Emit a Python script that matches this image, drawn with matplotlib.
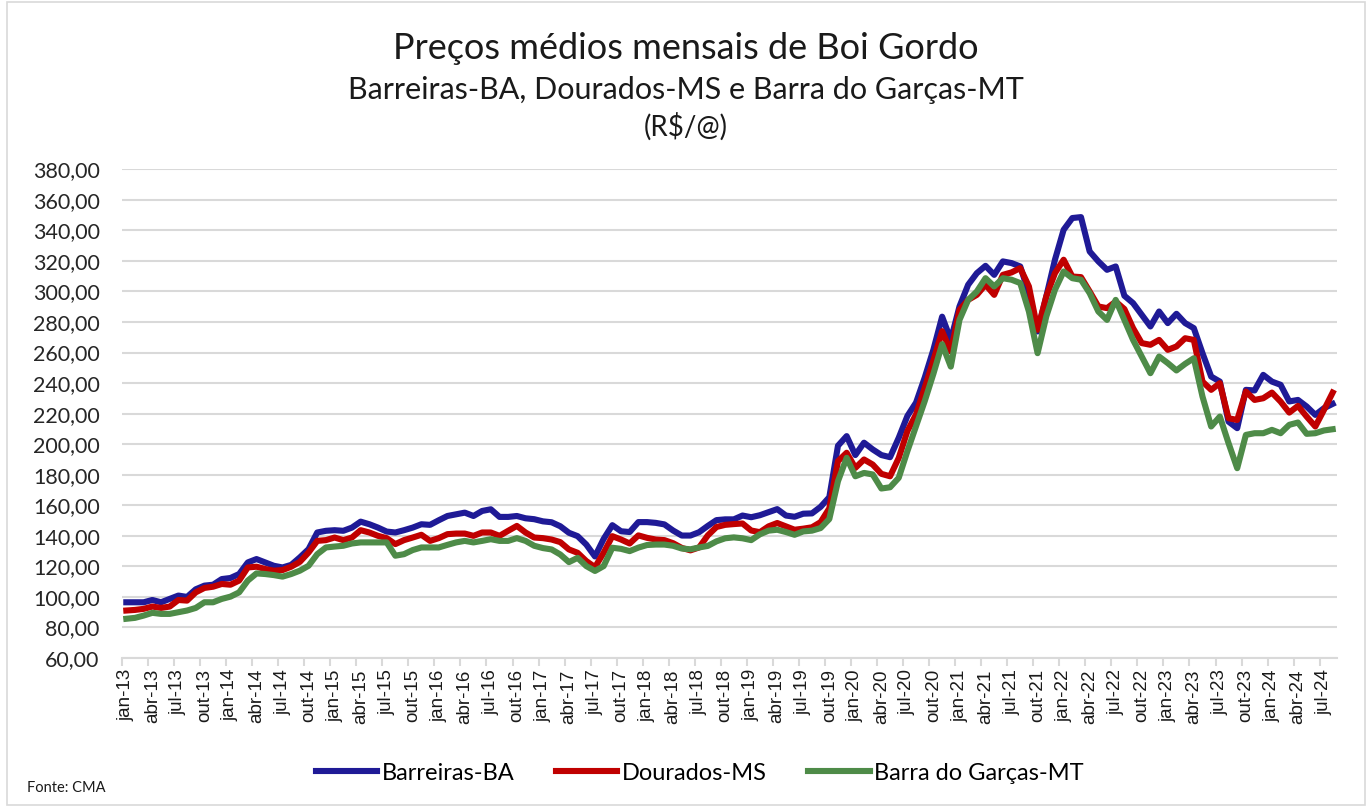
import matplotlib.pyplot as plt
from matplotlib.ticker import FuncFormatter, FixedLocator
from matplotlib.patches import Rectangle

# meses jan-13 .. ago-24
MESES = ["jan", "fev", "mar", "abr", "mai", "jun", "jul", "ago", "set", "out", "nov", "dez"]
categorias = [f"{m}-{a % 100:02d}" for a in range(2013, 2025) for m in MESES][:140]

barreiras = [
    96.5, 96.5, 96.5, 98.0, 96.5, 98.7, 100.9, 100.0, 105.0, 107.4, 108.0, 111.7,
    112.4, 115.0, 122.6, 124.8, 122.6, 120.4, 119.3, 121.0, 125.9, 131.3, 142.2, 143.3,
    143.7, 143.3, 145.4, 149.3, 147.6, 145.4, 142.8, 142.2, 143.7, 145.4, 147.6, 147.2,
    150.2, 153.0, 154.1, 155.2, 153.0, 156.3, 157.4, 152.4, 152.4, 153.0, 151.5, 150.9,
    149.5, 148.9, 146.3, 142.0, 139.8, 134.3, 126.5, 138.0, 147.0, 143.0, 142.5, 149.0,
    149.0, 148.5, 147.5, 143.5, 140.2, 140.2, 142.4, 146.5, 150.3, 150.8, 150.8, 153.3,
    152.2, 153.5, 155.5, 157.5, 153.3, 152.5, 154.5, 154.7, 159.0, 165.3, 199.0, 205.3,
    192.9, 201.0, 196.6, 192.9, 191.5, 204.2, 218.5, 227.3, 243.7, 262.0, 283.5, 268.3,
    290.2, 304.4, 312.0, 316.8, 310.9, 319.7, 318.6, 316.4, 298.9, 273.8, 296.7, 320.8,
    340.4, 348.1, 348.7, 326.2, 319.7, 314.2, 316.4, 297.2, 292.4, 284.7, 277.1, 286.9,
    279.3, 285.4, 279.3, 276.0, 259.6, 244.3, 241.0, 214.8, 210.5, 235.6, 235.2, 245.4,
    241.0, 238.9, 228.0, 229.0, 224.7, 219.2, 223.6, 226.4,
]

dourados = [
    91.1, 91.5, 92.2, 93.7, 92.8, 93.7, 98.0, 97.6, 103.0, 105.9, 106.7, 108.5,
    108.0, 110.7, 119.3, 119.8, 118.3, 117.2, 117.6, 119.8, 123.0, 129.1, 136.7, 137.2,
    138.9, 137.2, 138.9, 143.7, 142.2, 140.0, 138.5, 134.6, 137.2, 138.9, 140.7, 136.7,
    138.5, 141.1, 141.5, 141.5, 140.0, 142.2, 142.2, 140.0, 143.3, 146.5, 142.2, 138.9,
    138.5, 137.6, 135.9, 131.1, 128.9, 123.5, 119.5, 128.9, 139.8, 137.6, 135.0, 140.3,
    138.7, 137.6, 137.2, 135.2, 132.1, 130.5, 132.4, 140.3, 145.8, 147.2, 147.7, 148.1,
    143.5, 142.4, 146.2, 148.4, 146.2, 144.0, 144.7, 145.6, 149.0, 158.0, 188.9, 194.4,
    184.5, 190.0, 186.7, 180.6, 179.0, 191.0, 208.6, 219.6, 237.1, 255.0, 274.0, 260.7,
    288.0, 294.5, 297.8, 304.4, 297.8, 310.9, 312.5, 315.3, 303.3, 274.9, 296.7, 312.0,
    320.8, 309.8, 309.4, 300.0, 290.2, 289.1, 293.4, 288.5, 276.0, 266.2, 265.1, 268.3,
    261.8, 264.0, 269.4, 268.3, 241.0, 235.6, 240.0, 217.0, 215.9, 234.5, 229.0, 230.1,
    233.8, 227.9, 220.7, 225.1, 218.1, 211.6, 222.5, 233.8,
]

barra_garcas = [
    85.7, 86.3, 87.8, 89.6, 88.9, 88.9, 90.0, 91.1, 92.8, 96.5, 96.5, 98.7,
    100.2, 103.0, 110.7, 115.4, 115.0, 114.3, 113.3, 115.0, 117.2, 120.4, 128.0, 132.4,
    133.0, 133.5, 135.0, 135.7, 135.7, 135.7, 135.7, 127.0, 128.0, 130.7, 132.4, 132.4,
    132.4, 134.1, 135.7, 136.7, 135.7, 136.7, 137.8, 136.7, 136.7, 138.5, 136.7, 133.5,
    132.0, 131.1, 127.8, 122.8, 125.6, 120.2, 117.0, 120.2, 132.2, 131.5, 130.0, 132.3,
    134.0, 134.3, 134.3, 133.5, 131.7, 131.2, 132.4, 133.4, 136.4, 138.4, 139.0, 138.4,
    137.2, 141.0, 143.4, 144.0, 142.5, 140.7, 142.9, 143.4, 145.1, 151.0, 175.8, 191.1,
    179.0, 181.2, 180.2, 171.0, 171.8, 178.0, 195.5, 211.9, 228.3, 246.2, 265.5, 250.8,
    281.4, 294.5, 300.0, 308.7, 303.3, 308.7, 307.7, 305.5, 286.9, 259.6, 283.6, 301.1,
    313.1, 308.7, 307.7, 298.9, 286.9, 281.4, 294.5, 281.4, 268.3, 257.4, 246.5, 257.4,
    253.1, 248.3, 252.6, 256.3, 231.2, 211.6, 218.1, 200.7, 184.3, 206.1, 207.2, 207.2,
    209.4, 207.2, 212.7, 214.2, 206.8, 207.2, 209.0, 209.8,
]

series = [
    ("Barreiras-BA", barreiras, "#1F1A96"),
    ("Dourados-MS", dourados, "#C00000"),
    ("Barra do Garças-MT", barra_garcas, "#4E8B48"),
]

plt.rcParams['font.family'] = ['Lato', 'DejaVu Sans']

fig = plt.figure(figsize=(13.72, 8.07), dpi=100)
ax = fig.add_axes([0.0889, 0.1846, 0.9745 - 0.0889, 0.7902 - 0.1846])

x = list(range(len(categorias)))
for nome, vals, cor in series:
    ax.plot(x, vals, color=cor, lw=4.4, label=nome, solid_joinstyle='round')

ax.set_xlim(-0.5, len(categorias) - 0.5)
ax.set_ylim(60, 380)
ax.set_yticks(range(60, 381, 20))
ax.yaxis.set_major_formatter(FuncFormatter(lambda v, p: f"{v:.2f}".replace('.', ',')))
ax.grid(axis='y', color='#d9d9d9', lw=1.5)
ax.set_axisbelow(True)

# rótulos a cada 3 meses, marcas nas fronteiras das categorias
pos = list(range(0, len(categorias), 3))
ax.set_xticks(pos)
ax.set_xticklabels([categorias[i] for i in pos], rotation=90, fontsize=13.5,
                   family=['Liberation Sans Narrow', 'Liberation Sans'])
ax.xaxis.set_minor_locator(FixedLocator([p - 0.5 for p in pos]))
ax.tick_params(axis='x', which='major', length=0, pad=8, colors='#1a1a1a')
ax.tick_params(axis='x', which='minor', length=6, width=1.5, color='#d9d9d9')
ax.tick_params(axis='y', length=0, pad=16, labelsize=15.5, colors='#262626')

for s in ['top', 'right', 'left']:
    ax.spines[s].set_visible(False)
ax.spines['bottom'].set_color('#d9d9d9')
ax.spines['bottom'].set_linewidth(1.5)

fig.text(0.5, 0.94, "Preços médios mensais de Boi Gordo", ha='center', va='center',
         fontsize=26, color='#1a1a1a')
fig.text(0.5, 0.889, "Barreiras-BA, Dourados-MS e Barra do Garças-MT", ha='center',
         va='center', fontsize=22, color='#1a1a1a')
fig.text(0.5, 0.843, "(R$/@)", ha='center', va='center', fontsize=20, color='#1a1a1a')

fig.legend(loc='center', bbox_to_anchor=(0.51, 0.042), ncol=3, frameon=False,
           fontsize=17, handlelength=2.6, handletextpad=0.2, columnspacing=1.75)
fig.text(0.02, 0.024, "Fonte: CMA", ha='left', va='center', fontsize=10.5, color='#1a1a1a')

fig.add_artist(Rectangle((0.005, 0.003), 0.99, 0.994, transform=fig.transFigure,
                         fill=False, edgecolor='#d9d9d9', lw=1.2))

fig.savefig("out.png", dpi=100, facecolor='white')
